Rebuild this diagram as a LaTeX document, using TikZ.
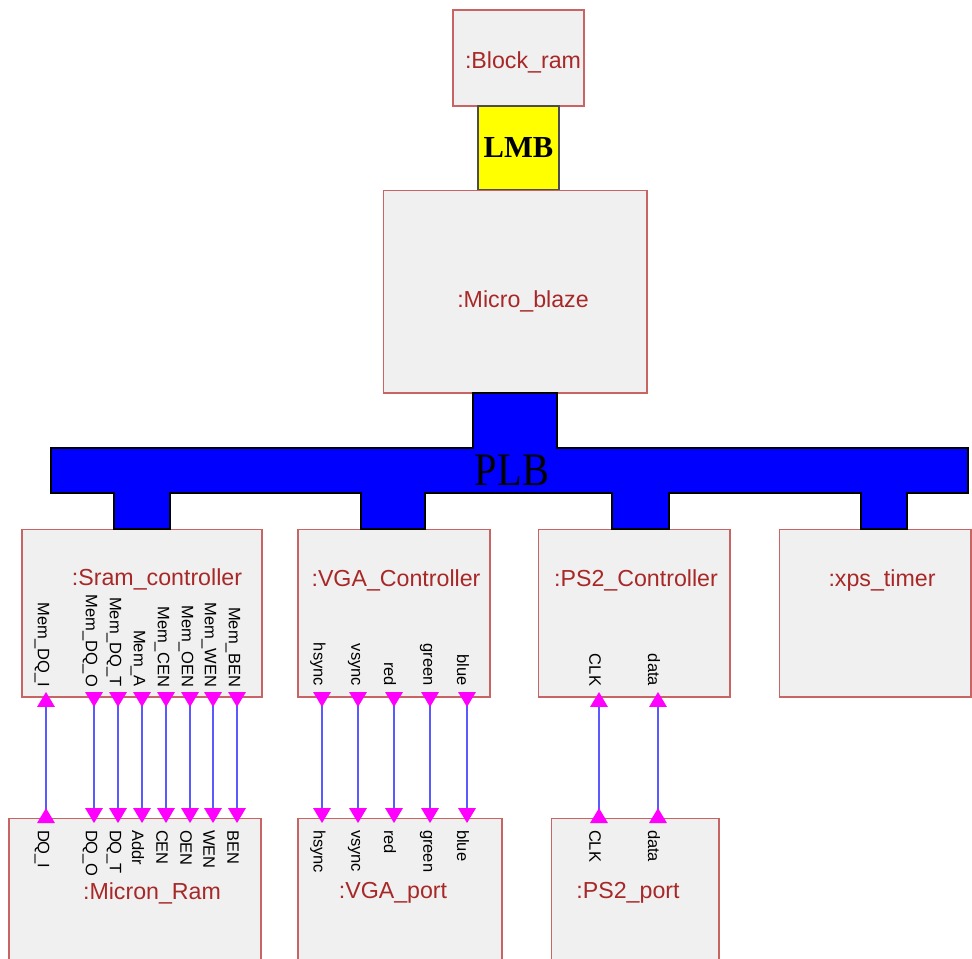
\documentclass[tikz,border=0pt]{standalone}
\usepackage{fontspec}
\setmainfont{Liberation Sans}
\newfontfamily\busfont{Liberation Serif}
\usetikzlibrary{arrows.meta}
\definecolor{boxfill}{RGB}{240,240,240}
\definecolor{boxline}{RGB}{200,100,100}
\definecolor{titlered}{RGB}{168,40,40}
\definecolor{wireblue}{RGB}{90,90,255}
\definecolor{pinpink}{RGB}{255,0,255}
\definecolor{busblue}{RGB}{0,0,255}
\definecolor{lmbyellow}{RGB}{255,255,0}

\begin{document}
\begin{tikzpicture}[
    x=0.02cm, y=-0.02cm,
    every node/.style={inner sep=0pt, outer sep=0pt},
    blk/.style={rectangle, draw=boxline, fill=boxfill, line width=0.6pt},
    blktitle/.style={font=\fontsize{13.2}{15}\selectfont, text=titlered},
    sigctl/.style={font=\fontsize{9.4}{11}\selectfont, rotate=-90, anchor=east},
    sigport/.style={font=\fontsize{9.4}{11}\selectfont, rotate=-90, anchor=west},
    bus/.style={fill=busblue, draw=black, line width=0.6pt},
    lmbbox/.style={rectangle, draw=black!70, fill=lmbyellow, line width=0.6pt, minimum width=1.62cm, minimum height=1.68cm, font=\busfont\bfseries\fontsize{17.4}{20}\selectfont},
    sigwire/.style={draw=wireblue, line width=0.7pt,
        {Triangle[reversed, color=pinpink, fill=pinpink, width=10pt, length=8.5pt]}-{Triangle[color=pinpink, fill=pinpink, width=10pt, length=8.5pt]}}
]
\useasboundingbox (0,0) rectangle (972,958);
\clip (0,0) rectangle (972,958);

% Blocks
\node[blk, minimum width=2.62cm, minimum height=1.92cm] (bram) at (518.5,58) {};
\node[lmbbox] (lmb) at (518.5,148) {LMB};
\node[blk, minimum width=5.28cm, minimum height=4.06cm] (mb) at (515,291.5) {};
\node[blk, minimum width=4.8cm, minimum height=3.36cm] (sram) at (142,613) {};
\node[blk, minimum width=3.84cm, minimum height=3.36cm] (vgac) at (394,613) {};
\node[blk, minimum width=3.84cm, minimum height=3.36cm] (ps2c) at (634,613) {};
\node[blk, minimum width=3.84cm, minimum height=3.36cm] (timer) at (875,613) {};
\node[blk, minimum width=5.04cm, minimum height=3.44cm] (mram) at (135,904) {};
\node[blk, minimum width=4.08cm, minimum height=3.44cm] (vgap) at (400,904) {};
\node[blk, minimum width=3.36cm, minimum height=3.44cm] (ps2p) at (635,904) {};

% PLB bus
\draw[bus] (473,393) -- (557,393) -- (557,448) -- (968,448) -- (968,493)
    -- (907,493) -- (907,529) -- (861,529) -- (861,493)
    -- (669,493) -- (669,529) -- (612,529) -- (612,493)
    -- (425,493) -- (425,529) -- (361,529) -- (361,493)
    -- (170,493) -- (170,529) -- (114,529) -- (114,493)
    -- (51,493) -- (51,448) -- (473,448) -- cycle;
\node[font=\busfont\fontsize{23}{26}\selectfont] (plb) at (512,470) {\scalebox{1}[1.15]{PLB}};

% Titles
\node[blktitle] (bramt) at (523,62) {:Block\_ram};
\node[blktitle] (mbt) at (523,301) {:Micro\_blaze};
\node[blktitle] (sramt) at (157,579) {:Sram\_controller};
\node[blktitle] (vgact) at (396,580) {:VGA\_Controller};
\node[blktitle] (ps2ct) at (636,580) {:PS2\_Controller};
\node[blktitle] (timert) at (882,580) {:xps\_timer};
\node[blktitle] (mramt) at (152,893) {:Micron\_Ram};
\node[blktitle] (vgapt) at (393,893) {:VGA\_port};
\node[blktitle] (ps2pt) at (628,893) {:PS2\_port};

% Pins
\node[sigctl] (ls1) at (42,687) {Mem\_DQ\_I};
\node[sigctl] (ls2) at (90,687) {Mem\_DQ\_O};
\node[sigctl] (ls3) at (114,687) {Mem\_DQ\_T};
\node[sigctl] (ls4) at (138,687) {Mem\_A};
\node[sigctl] (ls5) at (162,687) {Mem\_CEN};
\node[sigctl] (ls6) at (186,687) {Mem\_OEN};
\node[sigctl] (ls7) at (209,687) {Mem\_WEN};
\node[sigctl] (ls8) at (233,687) {Mem\_BEN};
\node[sigport] (lm1) at (42,830) {DQ\_I};
\node[sigport] (lm2) at (90,830) {DQ\_O};
\node[sigport] (lm3) at (114,830) {DQ\_T};
\node[sigport] (lm4) at (138,830) {Addr};
\node[sigport] (lm5) at (162,830) {CEN};
\node[sigport] (lm6) at (186,830) {OEN};
\node[sigport] (lm7) at (209,830) {WEN};
\node[sigport] (lm8) at (233,830) {BEN};
\node[sigctl] (lv1) at (318,686) {hsync};
\node[sigctl] (lv2) at (354,686) {vsync};
\node[sigctl] (lv3) at (390,686) {red};
\node[sigctl] (lv4) at (426,686) {green};
\node[sigctl] (lv5) at (463,686) {blue};
\node[sigport] (lp1) at (318,830) {hsync};
\node[sigport] (lp2) at (354,830) {vsync};
\node[sigport] (lp3) at (390,830) {red};
\node[sigport] (lp4) at (426,830) {green};
\node[sigport] (lp5) at (463,830) {blue};
\node[sigctl] (lk1) at (595,686) {CLK};
\node[sigctl] (lk2) at (654,686) {data};
\node[sigport] (lq1) at (595,830) {CLK};
\node[sigport] (lq2) at (654,830) {data};

% Pin points
\coordinate (s1) at (46,692);  \coordinate (m1) at (46,823);
\coordinate (s2) at (94,692);  \coordinate (m2) at (94,823);
\coordinate (s3) at (118,692); \coordinate (m3) at (118,823);
\coordinate (s4) at (142,692); \coordinate (m4) at (142,823);
\coordinate (s5) at (166,692); \coordinate (m5) at (166,823);
\coordinate (s6) at (190,692); \coordinate (m6) at (190,823);
\coordinate (s7) at (213,692); \coordinate (m7) at (213,823);
\coordinate (s8) at (237,692); \coordinate (m8) at (237,823);
\coordinate (v1) at (322,692); \coordinate (p1) at (322,823);
\coordinate (v2) at (358,692); \coordinate (p2) at (358,823);
\coordinate (v3) at (394,692); \coordinate (p3) at (394,823);
\coordinate (v4) at (430,692); \coordinate (p4) at (430,823);
\coordinate (v5) at (467,692); \coordinate (p5) at (467,823);
\coordinate (k1) at (599,692); \coordinate (q1) at (599,823);
\coordinate (k2) at (658,692); \coordinate (q2) at (658,823);

% Wires
\draw[sigwire] (m1) -- (s1);
\draw[sigwire] (s2) -- (m2);
\draw[sigwire] (s3) -- (m3);
\draw[sigwire] (s4) -- (m4);
\draw[sigwire] (s5) -- (m5);
\draw[sigwire] (s6) -- (m6);
\draw[sigwire] (s7) -- (m7);
\draw[sigwire] (s8) -- (m8);
\draw[sigwire] (v1) -- (p1);
\draw[sigwire] (v2) -- (p2);
\draw[sigwire] (v3) -- (p3);
\draw[sigwire] (v4) -- (p4);
\draw[sigwire] (v5) -- (p5);
\draw[sigwire] (q1) -- (k1);
\draw[sigwire] (q2) -- (k2);

\end{tikzpicture}
\end{document}
